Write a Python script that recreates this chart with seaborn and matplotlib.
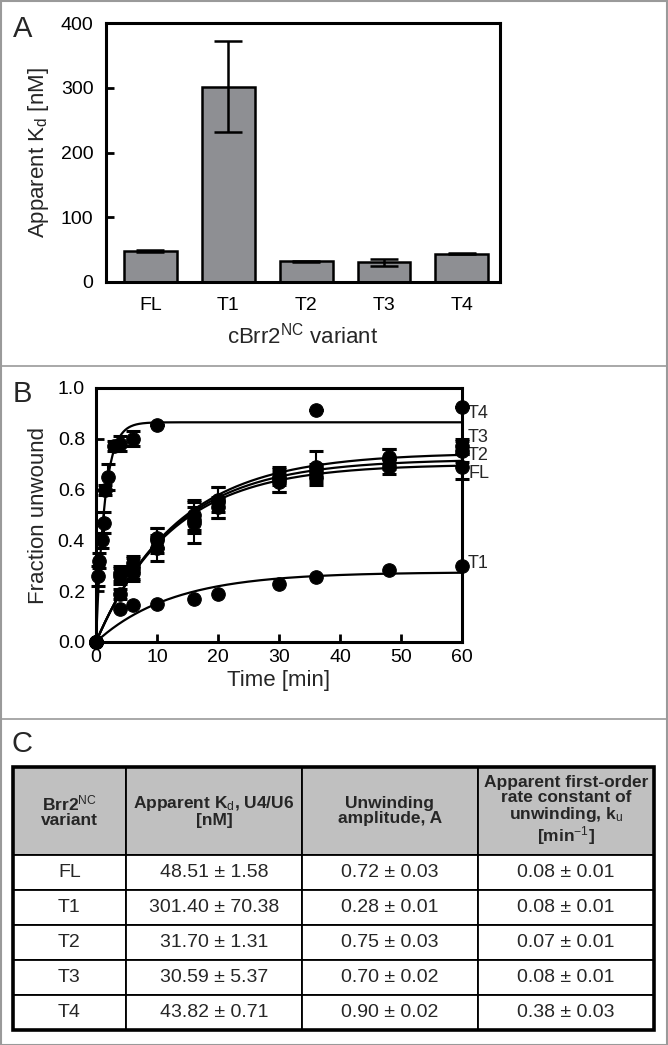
import numpy as np
import pandas as pd
import matplotlib
matplotlib.use('Agg')
import matplotlib.pyplot as plt
import seaborn as sns
from matplotlib.lines import Line2D
from matplotlib.patches import Rectangle

# ---- data ----
variants = ['FL', 'T1', 'T2', 'T3', 'T4']
kd = [48.51, 301.40, 31.70, 30.59, 43.82]
kd_err = [1.58, 70.38, 1.31, 5.37, 0.71]
amp_txt = ['0.72 ± 0.03', '0.28 ± 0.01', '0.75 ± 0.03', '0.70 ± 0.02', '0.90 ± 0.02']
rate_txt = ['0.08 ± 0.01', '0.08 ± 0.01', '0.07 ± 0.01', '0.08 ± 0.01', '0.38 ± 0.03']

# unwinding time courses
t_slow = [0, 4, 6, 10, 16, 20, 30, 36, 48, 60]
fl_y = [0, 0.19, 0.27, 0.37, 0.47, 0.53, 0.63, 0.65, 0.69, 0.69]
fl_e = [0, 0.02, 0.03, 0.05, 0.08, 0.04, 0.04, 0.03, 0.03, 0.05]
t2_y = [0, 0.27, 0.29, 0.40, 0.50, 0.56, 0.65, 0.69, 0.73, 0.75]
t2_e = [0, 0.03, 0.04, 0.05, 0.06, 0.05, 0.03, 0.06, 0.03, 0.04]
t3_y = [0, 0.26, 0.31, 0.41, 0.48, 0.55, 0.64, 0.67, 0.72, 0.77]
t3_e = [0, 0.03, 0.03, 0.04, 0.05, 0.06, 0.05, 0.03, 0.04, 0.03]
t1_y = [0, 0.13, 0.145, 0.15, 0.17, 0.19, 0.23, 0.255, 0.285, 0.30]
t_fast = [0, 0.25, 0.5, 1, 1.25, 1.5, 2, 3, 4, 6, 10, 36, 60]
t4_y = [0, 0.26, 0.32, 0.40, 0.47, 0.60, 0.65, 0.77, 0.78, 0.80, 0.855, 0.915, 0.925]
t4_e = [0, 0.04, 0.03, 0.03, 0.04, 0.02, 0.05, 0.02, 0.03, 0.03, 0, 0, 0]

# single-exponential fits drawn in panel B
fit_amp = {'FL': 0.70, 'T1': 0.275, 'T2': 0.745, 'T3': 0.72, 'T4': 0.865}
fit_k = {'FL': 0.08, 'T1': 0.08, 'T2': 0.075, 'T3': 0.078, 'T4': 0.70}

sns.set_style('ticks')
plt.rcParams['font.family'] = ['Liberation Sans', 'DejaVu Sans']
plt.rcParams['mathtext.fontset'] = 'custom'
plt.rcParams['mathtext.rm'] = 'Liberation Sans'
plt.rcParams['mathtext.it'] = 'Liberation Sans'
plt.rcParams['mathtext.bf'] = 'Liberation Sans:bold'

W, H = 668, 1045
fig = plt.figure(figsize=(W / 100, H / 100), dpi=100)


def rect(l, t, r, b):
    return [l / W, 1 - b / H, (r - l) / W, (b - t) / H]


def style_axes(ax):
    for s in ax.spines.values():
        s.set_linewidth(2.2)
        s.set_color('black')
    ax.tick_params(direction='in', width=2, length=6, labelsize=14, colors='black')


# ---- panel A ----
axA = fig.add_axes(rect(106, 23, 500, 282))
dfA = pd.DataFrame({'variant': variants, 'kd': kd})
sns.barplot(data=dfA, x='variant', y='kd', color='#8e8f93', saturation=1,
            edgecolor='black', linewidth=1.8, width=0.68, ax=axA)
axA.errorbar(range(len(variants)), kd, yerr=kd_err, fmt='none', ecolor='black',
             elinewidth=1.8, capsize=10, capthick=1.8)
axA.set_ylim(0, 400)
axA.set_xlim(-0.57, 4.49)
axA.set_yticks([0, 100, 200, 300, 400])
style_axes(axA)
axA.tick_params(axis='y', pad=9)
axA.tick_params(axis='x', length=0, pad=11)
axA.set_xlabel('cBrr2$^{\\mathrm{NC}}$ variant', fontsize=16, labelpad=6)
axA.set_ylabel('Apparent K$_{\\mathrm{d}}$ [nM]', fontsize=16, labelpad=7)

# ---- panel B ----
axB = fig.add_axes(rect(96, 388, 462, 642))
tt = np.linspace(0, 60, 400)
for name in ['T1', 'FL', 'T3', 'T2', 'T4']:
    sns.lineplot(x=tt, y=fit_amp[name] * (1 - np.exp(-fit_k[name] * tt)),
                 color='black', lw=1.6, ax=axB)
for t, y, e in [(t_slow, fl_y, fl_e), (t_slow, t2_y, t2_e), (t_slow, t3_y, t3_e),
                (t_fast, t4_y, t4_e)]:
    axB.errorbar(t, y, yerr=e, fmt='none', ecolor='black', elinewidth=1.5,
                 capsize=5, capthick=2.2, clip_on=False)
for t, y in [(t_slow, fl_y), (t_slow, t2_y), (t_slow, t3_y), (t_slow, t1_y), (t_fast, t4_y)]:
    sns.scatterplot(x=t, y=y, color='black', s=95, edgecolor='black', ax=axB,
                    clip_on=False, zorder=5)
axB.set_xlim(0, 60)
axB.set_ylim(0, 1.0)
axB.set_xticks(range(0, 61, 10))
axB.set_yticks(np.arange(0, 1.01, 0.2))
axB.yaxis.set_major_formatter(matplotlib.ticker.FormatStrFormatter('%.1f'))
style_axes(axB)
axB.tick_params(axis='y', pad=8)
axB.tick_params(axis='x', pad=5)
axB.set_xlabel('Time [min]', fontsize=16, labelpad=3)
axB.set_ylabel('Fraction unwound', fontsize=16, labelpad=6)
end_labels = ['T4', 'T3', 'T2', 'FL', 'T1']
end_label_y = [0.90, 0.805, 0.735, 0.665, 0.31]
for lab, ly in zip(end_labels, end_label_y):
    axB.text(61.0, ly, lab, fontsize=13, va='center', ha='left', clip_on=False)

# ---- panel C (table) ----
axC = fig.add_axes(rect(13, 767, 654, 1030))
axC.axis('off')
headers = ['Brr2$^{\\mathrm{NC}}$\nvariant',
           'Apparent K$_{\\mathrm{d}}$, U4/U6\n[nM]',
           'Unwinding\namplitude, A',
           'Apparent first-order\nrate constant of\nunwinding, k$_{\\mathrm{u}}$\n[min$^{\\mathrm{-1}}$]']
kd_txt = ['48.51 ± 1.58', '301.40 ± 70.38', '31.70 ± 1.31', '30.59 ± 5.37', '43.82 ± 0.71']
cells = [[v, k, a, r] for v, k, a, r in zip(variants, kd_txt, amp_txt, rate_txt)]
col_w = np.array([113, 176, 176, 176], dtype=float)
tbl = axC.table(cellText=cells, colLabels=headers, cellLoc='center',
                colWidths=list(col_w / col_w.sum()), bbox=[0, 0, 1, 1])
tbl.auto_set_font_size(False)
for (r, c), cell in tbl.get_celld().items():
    cell.set_linewidth(1.3)
    cell.set_edgecolor('black')
    if r == 0:
        cell.set_height(88)
        cell.set_facecolor('#c0c0c0')
        cell.get_text().set_fontsize(12.5)
        cell.get_text().set_fontweight('bold')
        cell.get_text().set_linespacing(1.0)
    else:
        cell.set_height(35)
        cell.get_text().set_fontsize(14)
axC.add_patch(Rectangle((0, 0), 1, 1, transform=axC.transAxes, fill=False,
                        lw=2.6, edgecolor='black', clip_on=False, zorder=10))

# panel letters, separators and frame
fig.text(23 / W, 1 - 29 / H, 'A', fontsize=21, va='center', ha='center')
fig.text(22 / W, 1 - 394 / H, 'B', fontsize=21, va='center', ha='center')
fig.text(22 / W, 1 - 744 / H, 'C', fontsize=21, va='center', ha='center')
for ysep in [366, 719]:
    fig.add_artist(Line2D([0, 1], [1 - ysep / H, 1 - ysep / H],
                          transform=fig.transFigure, color='#9a9a9a', lw=1.2))
fig.add_artist(Rectangle((0.5 / W, 0.5 / H), 1 - 1.5 / W, 1 - 1.5 / H,
                         transform=fig.transFigure, fill=False, edgecolor='#9a9a9a', lw=1.5))

fig.savefig('out.png', dpi=100, facecolor='white')
